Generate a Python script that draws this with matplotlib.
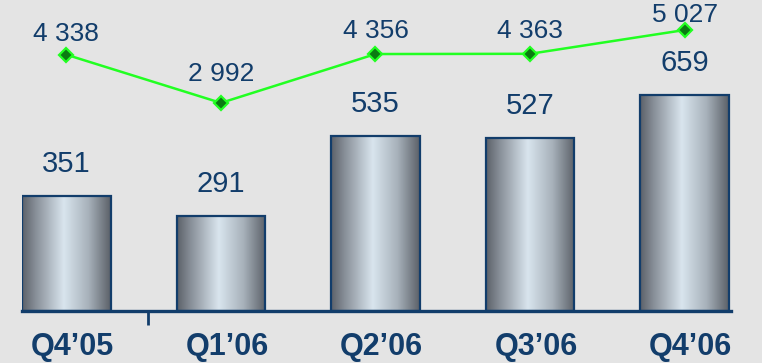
import numpy as np
import matplotlib
matplotlib.use("Agg")
import matplotlib.pyplot as plt
from matplotlib.colors import LinearSegmentedColormap
from matplotlib.patches import Rectangle
import matplotlib.transforms as mtransforms

quarters = ["Q4\u201905", "Q1\u201906", "Q2\u201906", "Q3\u201906", "Q4\u201906"]
bar_values = [351, 291, 535, 527, 659]
line_values = [4338, 2992, 4356, 4363, 5027]

navy = "#123d6b"
bg = "#e4e4e4"
plt.rcParams["font.family"] = ["Liberation Sans", "DejaVu Sans"]

# metallic cylinder look: dark edges, light middle
steel = LinearSegmentedColormap.from_list(
    "steel",
    [(0.0, "#5c6169"), (0.15, "#878e97"), (0.47, "#d9e5ee"),
     (0.75, "#a7b1ba"), (1.0, "#5b6068")])
grad = np.linspace(0, 1, 256).reshape(1, -1)

fig = plt.figure(figsize=(7.62, 3.63), dpi=100, facecolor=bg)
ax = fig.add_axes([22 / 762, 52 / 363, 709 / 762, 311 / 363])
ax.set_facecolor(bg)

x = np.arange(len(quarters))
width = 0.574
for xi, v in zip(x, bar_values):
    ax.imshow(grad, cmap=steel, aspect="auto", interpolation="bicubic",
              extent=(xi - width / 2, xi + width / 2, 0, v), zorder=2)
    ax.add_patch(Rectangle((xi - width / 2, 0), width, v, fill=False,
                           edgecolor=navy, linewidth=1.6, zorder=3))
    ax.annotate(str(v), (xi, v), xytext=(0, 13), textcoords="offset points",
                ha="center", va="bottom", fontsize=21, color=navy)

ax.set_xlim(-0.287, 4.30)
ax.set_ylim(0, 950)
for s in ["top", "left", "right"]:
    ax.spines[s].set_visible(False)
ax.spines["bottom"].set_color(navy)
ax.spines["bottom"].set_linewidth(2.4)
ax.spines["bottom"].set_zorder(4)
ax.set_yticks([])
ax.set_xticks(x)
ax.set_xticklabels(quarters, fontsize=22, fontweight="bold", color=navy)
ax.tick_params(axis="x", which="major", length=0, pad=15)
ax.set_xticks([0.53], minor=True)
ax.tick_params(axis="x", which="minor", length=10, width=2, color=navy,
               direction="out")
shift = mtransforms.ScaledTranslation(6 / 100, 0, fig.dpi_scale_trans)
for lbl in ax.get_xticklabels():
    lbl.set_transform(lbl.get_transform() + shift)

ax2 = ax.twinx()
ax2.set_ylim(-2818, 5865)
ax2.axis("off")
ax2.plot(x, line_values, color="#22ff22", linewidth=1.8, zorder=5,
         marker="D", markersize=7, markerfacecolor="#0b7a12",
         markeredgecolor="#22ff22", markeredgewidth=1.6)
# label gaps above each marker, in points (kept clear of the line)
label_pad = [6, 12.5, 8, 8, 2.4]
for xi, v, pad in zip(x, line_values, label_pad):
    txt = f"{v:,}".replace(",", " ")
    ax2.annotate(txt, (xi, v), xytext=(0, pad), textcoords="offset points",
                 ha="center", va="bottom", fontsize=19, color=navy)

fig.savefig("out.png", dpi=100, facecolor=bg)
